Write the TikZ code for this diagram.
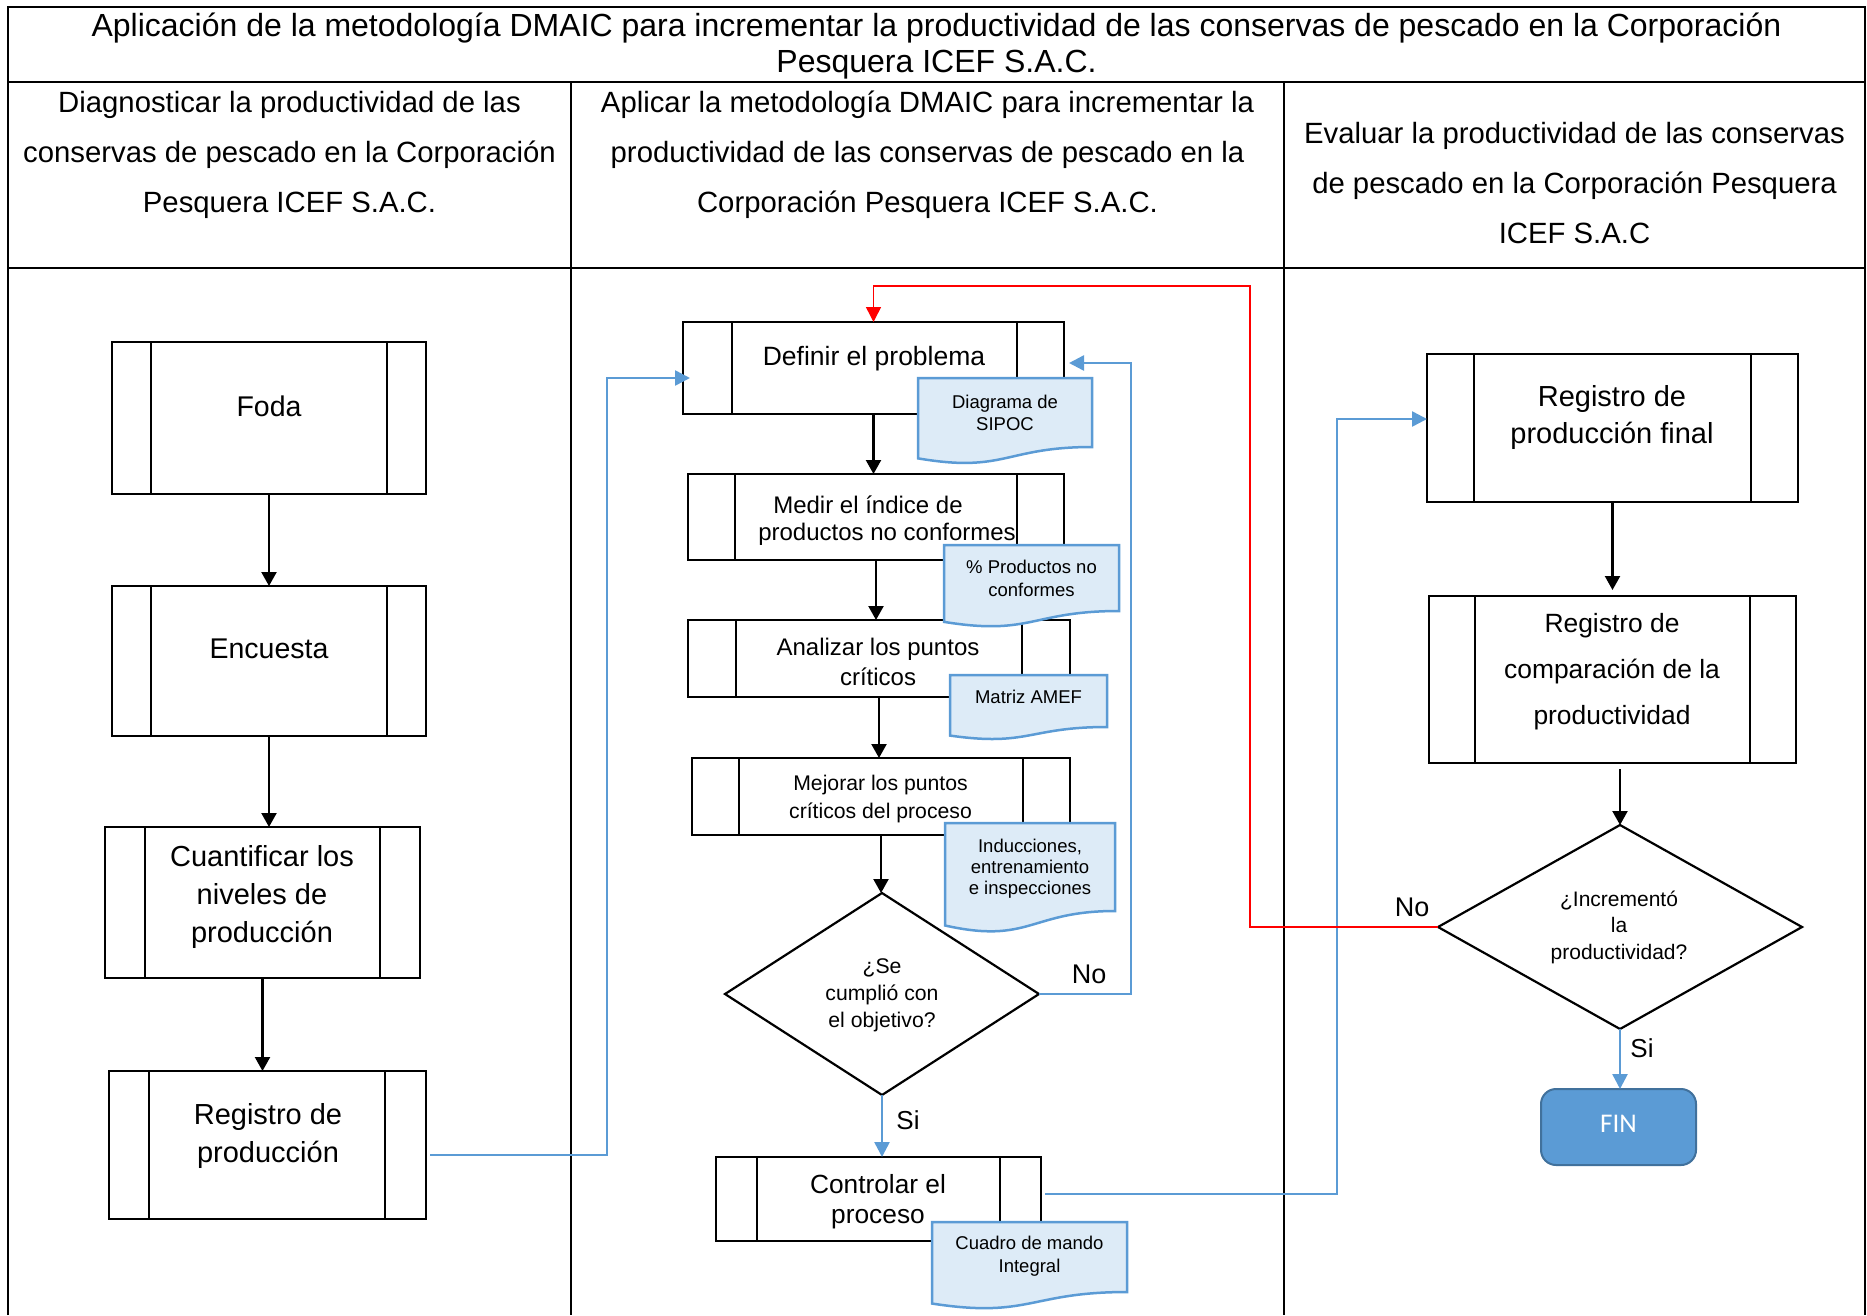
\documentclass[tikz,border=0pt]{standalone}
\usepackage{fontspec}
\setmainfont{Liberation Sans}
\newfontfamily\calibri{Carlito}
\usetikzlibrary{arrows.meta,shapes.geometric,calc}
\definecolor{lblue}{HTML}{5B9BD5}
\definecolor{dblue}{HTML}{41719C}
\definecolor{docfill}{HTML}{DDEBF7}
\newcommand\fs[2]{\fontsize{#1}{#2}\selectfont}
\tikzset{
  every node/.style={inner sep=0pt, outer sep=0pt},
  grid/.style={line width=2.5pt, black},
  pboxst/.style={draw, line width=2.5pt, rectangle, inner sep=0pt},
  pline/.style={line width=2.5pt},
  docst/.style={draw=lblue, fill=docfill, line width=2.5pt},
  dec/.style={draw, diamond, line width=2.2pt, inner sep=0pt},
  txt/.style={align=center, text=black},
  blk/.style={line width=2.2pt, -{Triangle[length=14pt,width=15pt]}},
  blu/.style={draw=lblue, line width=2.5pt, -{Triangle[length=15pt,width=15pt]}},
  redarr/.style={draw=red, line width=1.5pt, -{Triangle[length=15pt,width=15pt]}},
  finst/.style={draw=dblue, fill=lblue, rounded corners=15pt, line width=2pt, text=white}
}
% process box: name, x1, y1, x2, y2, inner-left x, inner-right x
\newcommand\pbox[7]{%
  \node[pboxst, minimum width={#4-#2}, minimum height={#5-#3}] (#1) at ({(#2+#4)/2},{(#3+#5)/2}) {};
  \draw[pline] (#6,#3) -- (#6,#5) (#7,#3) -- (#7,#5);}
% document shape: name, x1, y1, x2, y right bottom
\newcommand\docbox[5]{%
  \pgfmathsetmacro\dh{(#5-#3)/0.802}%
  \pgfmathsetmacro\dxm{(#2+#4)/2}%
  \pgfmathsetmacro\dya{#3+1.107*\dh}%
  \pgfmathsetmacro\dyb{#3+0.934*\dh}%
  \draw[docst] (#2,#3) -- (#4,#3) -- (#4,#5) .. controls (\dxm,#5) and (\dxm,\dya) .. (#2,\dyb) -- cycle;
  \coordinate (#1) at (\dxm,#3);}
\begin{document}
\begin{tikzpicture}[x=1pt,y=-1pt]
\useasboundingbox (0,0) rectangle (1867,1315);
% table
\draw[grid] (8,1315) -- (8,7) -- (1865,7) -- (1865,1315);
\draw[grid] (8,82) -- (1865,82);
\draw[grid] (8,268) -- (1865,268);
\draw[grid] (571,82) -- (571,1315);
\draw[grid] (1284,82) -- (1284,1315);
\node[txt, font=\fs{32}{36}] (title) at (936.5,46) {Aplicación de la metodología DMAIC para incrementar la productividad de las conservas de pescado en la Corporación\\Pesquera ICEF S.A.C.};
\node[txt, font=\fs{29.3}{50}] (h1) at (289.5,155) {Diagnosticar la productividad de las\\conservas de pescado en la Corporación\\Pesquera ICEF S.A.C.};
\node[txt, font=\fs{29.3}{50}] (h2) at (927.5,155) {Aplicar la metodología DMAIC para incrementar la\\productividad de las conservas de pescado en la\\Corporación Pesquera ICEF S.A.C.};
\node[txt, font=\fs{29.3}{50}] (h3) at (1574.5,183) {Evaluar la productividad de las conservas\\de pescado en la Corporación Pesquera\\ICEF S.A.C};
% left column
\pbox{foda}{112}{342}{426}{494}{151}{387}
\pbox{encu}{112}{586}{426}{736}{151}{387}
\pbox{cuan}{105}{827}{420}{978}{145}{380}
\pbox{regp}{109}{1071}{426}{1219}{149}{385}
\node[txt, font=\fs{28.5}{36}] (fodaT) at (269,406) {Foda};
\node[txt, font=\fs{28.5}{36}] (encuT) at (269,649) {Encuesta};
\node[txt, font=\fs{29}{38}] (cuanT) at (262,896.5) {Cuantificar los\\niveles de\\producción};
\node[txt, font=\fs{29}{38}] (regpT) at (268,1135.5) {Registro de\\producción};
% middle column
\pbox{defi}{683}{322}{1064}{414}{732}{1017}
\pbox{medi}{688}{474}{1064}{560}{735}{1017}
\pbox{anal}{688}{620}{1070}{697}{736}{1022}
\pbox{mejo}{692}{758}{1070}{835}{739}{1023}
\pbox{cont}{716}{1157}{1041}{1241}{757}{1000}
\node[txt, font=\fs{26.5}{30}] (defiT) at (874,358.5) {Definir el problema};
\node[txt, font=\fs{24}{27}] (mediT) at (887,520.5) {Medir el índice de\hspace*{38pt}\\productos no conformes};
\node[txt, font=\fs{24}{30}] (analT) at (878,662) {Analizar los puntos\\críticos};
\node[txt, font=\fs{21.2}{28}] (mejoT) at (880.5,799) {Mejorar los puntos\\críticos del proceso};
\node[txt, font=\fs{26.3}{30}] (contT) at (878,1201.5) {Controlar el\\proceso};
\node[dec, minimum width=314, minimum height=202] (dia1) at (882,994) {};
\node[txt, font=\fs{21.2}{27}] (dia1T) at (882,995) {¿Se\\cumplió con\\el objetivo?};
% right column
\pbox{regf}{1427}{354}{1798}{502}{1474}{1751}
\pbox{comp}{1429}{596}{1796}{763}{1475}{1750}
\node[txt, font=\fs{29}{37}] (regfT) at (1612,417.5) {Registro de\\producción final};
\node[txt, font=\fs{26.4}{46}] (compT) at (1612,671.5) {Registro de\\comparación de la\\productividad};
\node[dec, minimum width=364, minimum height=204] (dia2) at (1620,927) {};
\node[txt, font=\fs{21}{26.5}] (dia2T) at (1619,927) {¿Incrementó\\la\\productividad?};
\node[finst, minimum width=155, minimum height=76, font=\calibri\fs{27}{30}] (fin) at (1618.5,1127) {};
\node[txt, font=\calibri\fs{27}{30}, text=white] (finT) at (1618.5,1123.5) {FIN};
% documents
\docbox{d1}{918}{378}{1092}{447}
\node[txt, font=\fs{18.5}{22}] (d1T) at (1005,412.5) {Diagrama de\\SIPOC};
\docbox{d2}{944}{545}{1119}{611}
\node[txt, font=\fs{18.5}{23}] (d2T) at (1031.5,578) {\% Productos no\\conformes};
\docbox{d3}{950}{675}{1107}{727}
\node[txt, font=\fs{18.5}{23}] (d3T) at (1028.5,697) {Matriz AMEF};
\docbox{d4}{945}{823}{1115}{911}
\node[txt, font=\fs{18.5}{21}] (d4T) at (1030,869) {Inducciones,\\entrenamiento\\e inspecciones};
\docbox{d5}{932}{1222}{1127}{1292}
\node[txt, font=\fs{18.5}{23}] (d5T) at (1029.5,1256.5) {Cuadro de mando\\Integral};
% connectors left
\draw[blk] (foda.south) -- (encu.north);
\draw[blk] (encu.south) -- (encu.south |- cuan.north);
\draw[blk] (cuan.south) -- (cuan.south |- regp.north);
\coordinate (b1s) at ([xshift=4pt,yshift=-10pt]regp.east);
\coordinate (b1e) at ([xshift=7pt,yshift=-10pt]defi.west);
\draw[blu] (b1s) -- ++(177,0) |- (b1e);
% connectors middle
\draw[blk] (defi.south) -- (defi.south |- medi.north);
\draw[blk] (medi.south) -- (medi.south |- anal.north);
\draw[blk] (anal.south) -- (anal.south |- mejo.north);
\draw[blk] (mejo.south) -- (mejo.south |- dia1.north);
\draw[blu] (dia1.south) -- (dia1.south |- cont.north);
\node[txt, font=\fs{26}{30}] (si1) at (908,1120) {Si};
\coordinate (b2e) at ([xshift=5pt,yshift=5pt]defi.east);
\draw[blu] (dia1.east) -- ++(92,0) |- (b2e);
\node[txt, font=\fs{27}{30}] (no1) at (1089,974) {No};
\coordinate (b3s) at ([xshift=4pt,yshift=5pt]cont.east);
\coordinate (b3e) at ([yshift=9pt]regf.west);
\draw[blu] (b3s) -- ++(292,0) |- (b3e);
% connectors right
\draw[blk] (regf.south) -- ($(regf.south |- comp.north)+(0,-6)$);
\draw[blk] ($(dia2.north |- comp.south)+(0,6)$) -- (dia2.north);
\draw[blu] (dia2.south) -- (dia2.south |- fin.north);
\node[txt, font=\fs{26}{30}] (si2) at (1642,1048) {Si};
\node[txt, font=\fs{27}{30}] (no2) at (1412,907) {No};
\draw[redarr] (dia2.west) -- ++(-188,0) -- ++(0,-641) -| (defi.north);
\end{tikzpicture}
\end{document}
